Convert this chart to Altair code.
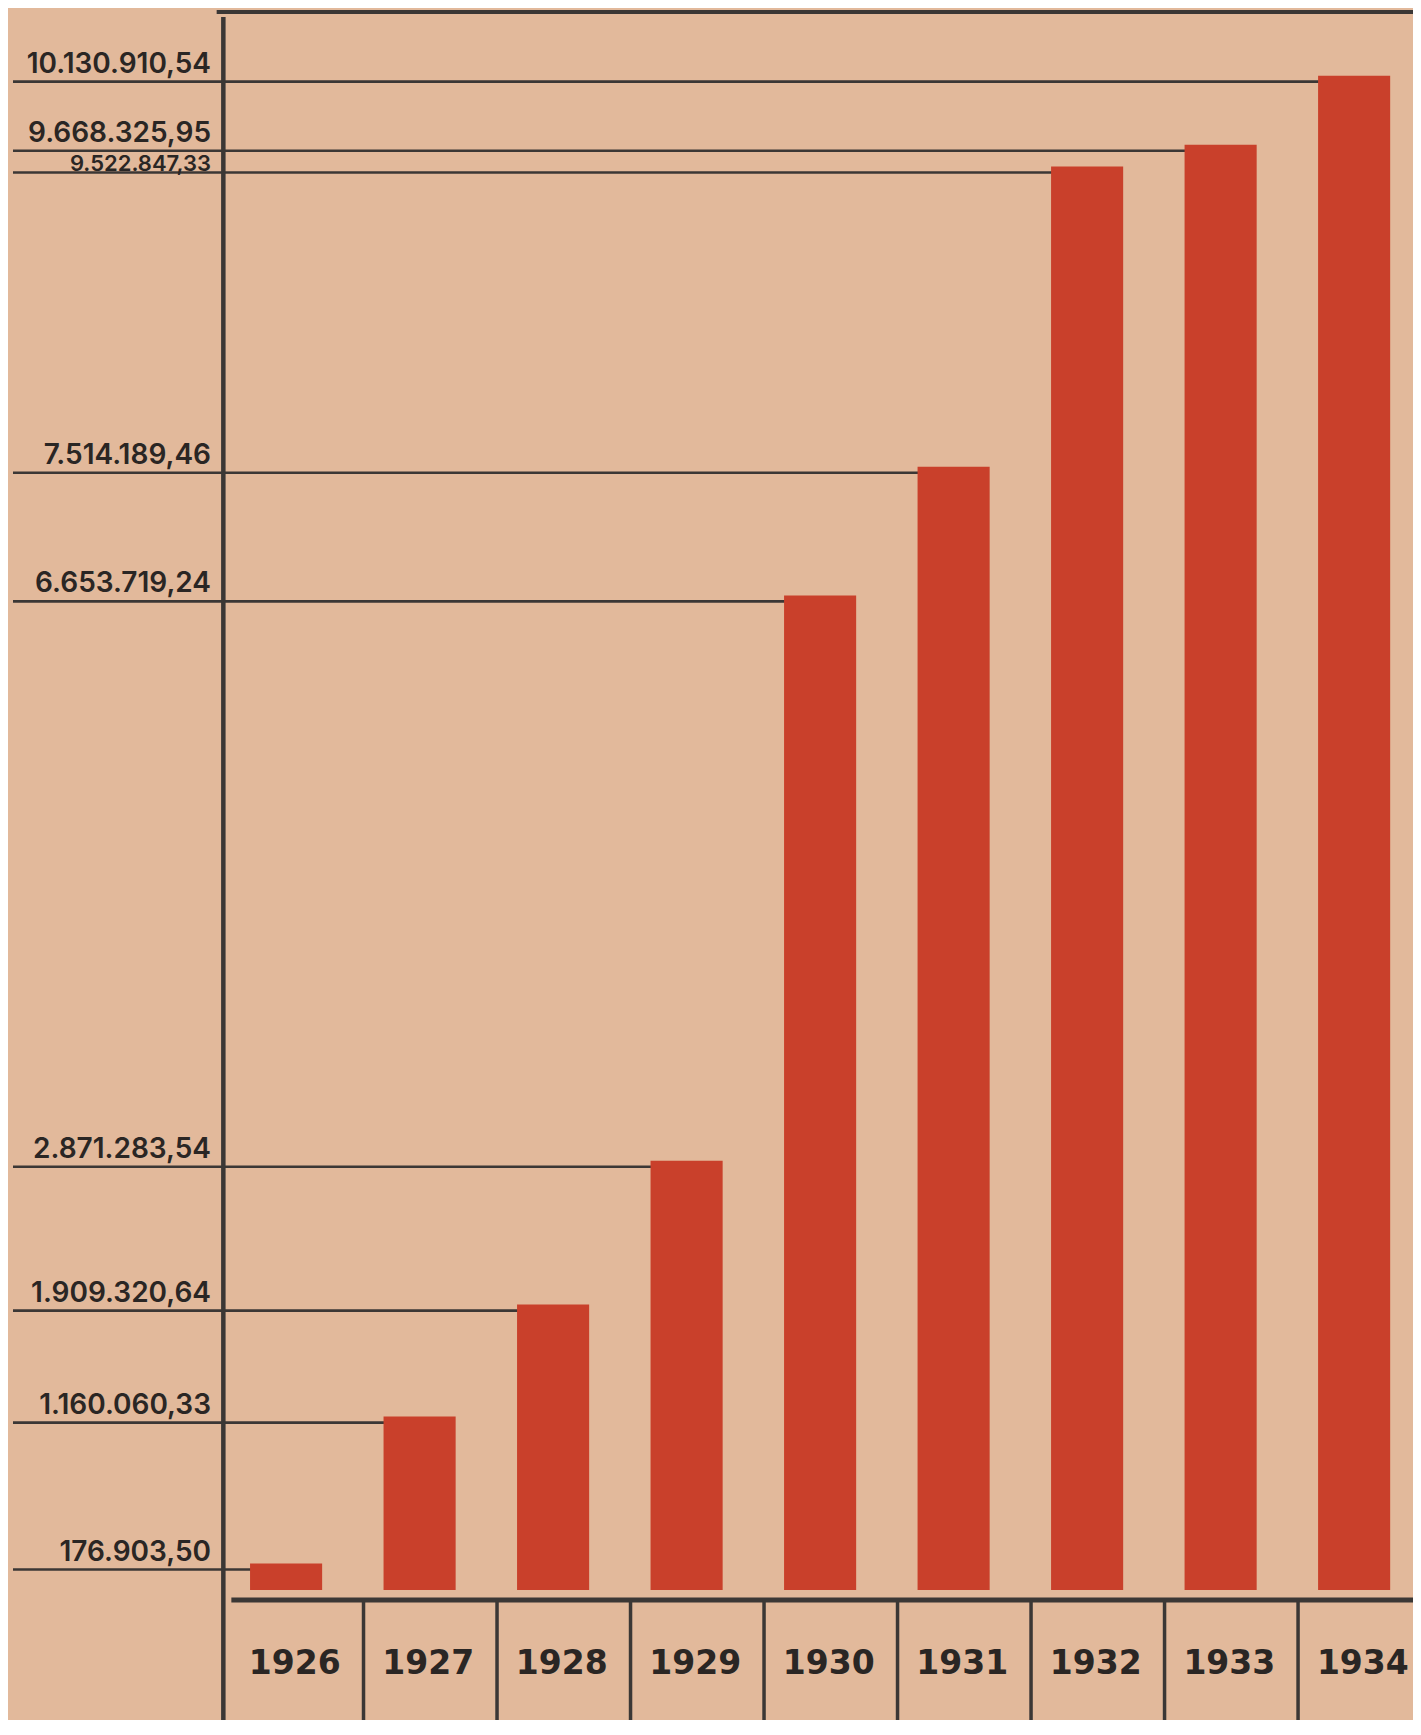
import altair as alt
import pandas as pd

# ---- data ----
years = [1926, 1927, 1928, 1929, 1930, 1931, 1932, 1933, 1934]
values = [176903.50, 1160060.33, 1909320.64, 2871283.54, 6653719.24,
          7514189.46, 9522847.33, 9668325.95, 10130910.54]
value_labels = ["176.903,50", "1.160.060,33", "1.909.320,64", "2.871.283,54",
                "6.653.719,24", "7.514.189,46", "9.522.847,33", "9.668.325,95",
                "10.130.910,54"]
year_labels = [str(y) for y in years]

# ---- styling ----
W, H = 1405, 1712
PAPER = "#e2b99b"
RED = "#c9402b"
INK = "#3b3735"
TEXT = "#2a2624"

X_DOMAIN = [1923.867, 1934.391]
Y_DOMAIN = [-869700, 10583580]
xs = alt.Scale(domain=X_DOMAIN, nice=False, zero=False)
ys = alt.Scale(domain=Y_DOMAIN, nice=False, zero=False)

df = pd.DataFrame({"year": years, "value": values, "label": value_labels,
                   "ylabel": year_labels})
# labels whose line sits close under the next line get placed tighter to their own line
units_per_px = (Y_DOMAIN[1] - Y_DOMAIN[0]) / H
gap_px = (df["value"].shift(-1) - df["value"]) / units_per_px
df["tight"] = (gap_px < 40).fillna(False)

df_sep = pd.DataFrame({"b": [y + 0.53 for y in years[:-1]], "v": [0] * (len(years) - 1)})

base = alt.Chart(df)

bars = base.mark_bar(color=RED).transform_calculate(
    x0="datum.year - 0.32", x1="datum.year + 0.22"
).encode(
    x=alt.X("x0:Q", scale=xs, axis=None),
    x2="x1:Q",
    y=alt.Y("value:Q", scale=ys, axis=None),
    y2=alt.datum(0),
)

leaders = base.mark_rule(color=INK, strokeWidth=2.6, yOffset=6,
                         xOffset=5).transform_calculate(
    x0="datum.year - 0.32"
).encode(
    x=alt.X("x0:Q", scale=xs, axis=None),
    x2=alt.value(5),
    y=alt.Y("value:Q", scale=ys, axis=None),
)

text_style = dict(align="right", baseline="alphabetic", font="Inter",
                  fontWeight=600, color=TEXT)

value_text = base.transform_filter("!datum.tight").mark_text(
    yOffset=-3, fontSize=28, **text_style).encode(
    x=alt.value(203),
    y=alt.Y("value:Q", scale=ys, axis=None),
    text="label:N",
)

value_text_tight = base.transform_filter("datum.tight").mark_text(
    yOffset=4, fontSize=22, **text_style).encode(
    x=alt.value(203),
    y=alt.Y("value:Q", scale=ys, axis=None),
    text="label:N",
)

year_text = base.mark_text(align="center", baseline="middle", font="DejaVu Sans",
                           fontSize=33, fontWeight="bold", color=TEXT).transform_calculate(
    xc="datum.year + 0.015"
).encode(
    x=alt.X("xc:Q", scale=xs, axis=None),
    y=alt.value(1656),
    text="ylabel:N",
)

v_axis = alt.Chart(pd.DataFrame({"b": [1925.48]})).mark_rule(
    color=INK, strokeWidth=4.5).encode(
    x=alt.X("b:Q", scale=xs, axis=None),
    y=alt.value(9),
    y2=alt.value(H),
)

top_border = alt.Chart(pd.DataFrame({"b": [1925.43]})).mark_rule(
    color=INK, strokeWidth=4).encode(
    x=alt.X("b:Q", scale=xs, axis=None),
    x2=alt.value(W),
    y=alt.value(4),
)

baseline = alt.Chart(pd.DataFrame({"b": [1925.54], "v": [0]})).mark_rule(
    color=INK, strokeWidth=5, yOffset=10).encode(
    x=alt.X("b:Q", scale=xs, axis=None),
    x2=alt.value(W),
    y=alt.Y("v:Q", scale=ys, axis=None),
)

separators = alt.Chart(df_sep).mark_rule(color=INK, strokeWidth=3.5, yOffset=10).encode(
    x=alt.X("b:Q", scale=xs, axis=None),
    y=alt.Y("v:Q", scale=ys, axis=None),
    y2=alt.value(H),
)

chart = alt.layer(
    leaders, bars, value_text, value_text_tight, top_border, v_axis, baseline,
    separators, year_text
).properties(
    width=W, height=H,
    autosize=alt.AutoSizeParams(type="none"),
    padding=0,
    background=PAPER,
).configure_view(stroke=None)

chart.save("out.html", embed_options={"renderer": "svg", "actions": False})
